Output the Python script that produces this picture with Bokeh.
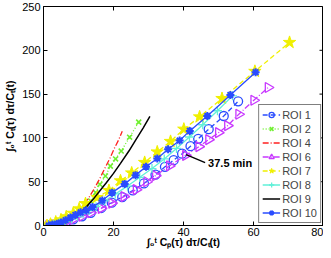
import numpy as np
from bokeh.plotting import figure
from bokeh.models import Label, FixedTicker
from bokeh.embed import file_html
from bokeh.resources import INLINE

# ---------------- data ----------------
x_ticks = [0, 20, 40, 60, 80]
y_ticks = [0, 50, 100, 150, 200, 250]
x_label = "∫₀ᵗ Cₚ(τ) dτ/Cₜ(t)"
y_label = "∫₀ᵗ Cₜ(τ) dτ/Cₜ(t)"

roi1_x = [1.5, 3, 4.5, 6.5, 8.5, 11, 13.5, 16.5, 19.5, 22.5, 25.5, 28.7, 32, 34.7, 37.2, 39.6, 42, 44.2, 47.2, 51.5, 55.6]
roi1_y = [0, 1, 2.5, 4.5, 7, 10.5, 14.5, 20, 26, 32.5, 40, 48, 58, 67, 74.6, 82, 90.5, 99, 110, 125, 141.7]

roi2_x = [1.5, 3, 4.5, 6, 7.5, 9, 10.5, 12, 13.5, 14.9, 16.1, 17.7, 19.1, 20.6, 22.2, 24.6, 27.2]
roi2_y = [0, 1, 2.5, 4.5, 7, 10.5, 15, 20.5, 28, 37.5, 47, 56.5, 67.8, 76, 85, 100.8, 118]

roi4_x = [1, 2.5, 4, 5.5, 7, 8.5, 10, 11.5, 13, 14.5, 16, 17.5, 19, 20.3, 21.5, 22.5]
roi4_y = [0, 1.5, 3.5, 6, 9.5, 14, 19, 24, 32, 42, 53, 65, 77, 88.6, 98, 107.6]

roi6_x = [1.5, 3, 4.5, 6.5, 8.5, 11, 13.5, 16.5, 19.5, 23, 26.5, 29.5, 32, 36, 40.6, 44.4, 47.2, 50, 52.6, 55.8, 60.1, 64.2]
roi6_y = [0, 1, 2.5, 4.5, 7, 10.5, 14.5, 19.5, 25.5, 33, 41, 50, 57, 68, 80, 90, 98, 106, 114, 127, 143, 157.6]

roi7_x = [1, 2, 3.5, 5, 6.5, 8.5, 10.2, 12, 15.3, 18.7, 22, 25.2, 28.9, 32.5, 36.3, 40.1, 44.6, 51, 60.4, 70.3]
roi7_y = [0, 1.5, 4, 6.5, 10, 14, 19, 25, 32, 40, 51, 60, 72, 84, 96, 110, 124, 145, 176, 209]

roi8_x = [1.5, 3, 4.5, 6.2, 8, 9.7, 11.3, 13, 15, 17.5, 20.5, 24, 27.5, 31, 34.5, 38, 41.7, 45.5, 49.7, 54]
roi8_y = [0, 1.2, 2.8, 4.8, 7.5, 10.5, 13.5, 17, 21.5, 28, 36, 45, 55, 65, 76, 88, 101, 115, 131, 148]

roi9_x = [1, 2.5, 4, 5.5, 7, 8.5, 10, 11.5, 12.5, 14, 16, 18, 20, 22, 24.4, 26.5, 28.5, 30.4]
roi9_y = [0, 1.5, 3, 5, 7.5, 10.5, 14, 18.5, 22.4, 29, 39, 49, 59.5, 71, 85, 98.5, 111.5, 124.7]

roi10_x = [1.5, 2.5, 3.8, 5, 6.3, 7.7, 9.1, 10.6, 12.2, 14, 16.8, 19.6, 23.2, 26.3, 29.3, 32.5, 35.6, 38.9, 41.8, 46.8, 53.4, 60.6]
roi10_y = [0, 1, 2, 3.5, 6, 9, 12, 15, 17.5, 21, 28.5, 37.5, 47.5, 57.5, 67, 76.5, 87, 97, 108, 125, 149, 175]

annot_text = "37.5 min"
annot_index = 15  # point of ROI 1 at 37.5 min

FONT = "Liberation Sans"
W_FIG, H_FIG = 323, 250
MB_L, MB_R, MB_T, MB_B = 43, 0, 6, 25
X0, X1, Y0, Y1 = 0, 80, 0, 250

p = figure(width=W_FIG, height=H_FIG, x_range=(X0, X1), y_range=(Y0, Y1),
           output_backend="svg", toolbar_location=None,
           min_border_left=MB_L, min_border_right=MB_R, min_border_top=MB_T, min_border_bottom=MB_B)
p.xgrid.visible = False
p.ygrid.visible = False
p.outline_line_color = "black"
p.background_fill_color = "white"
p.border_fill_color = "white"

p.xaxis.ticker = FixedTicker(ticks=x_ticks)
p.yaxis.ticker = FixedTicker(ticks=y_ticks)
p.xaxis.axis_label = x_label
p.yaxis.axis_label = y_label
for ax in p.xaxis + p.yaxis:
    ax.axis_line_color = "black"
    ax.major_tick_line_color = "black"
    ax.major_tick_in = 4
    ax.major_tick_out = 0
    ax.minor_tick_line_color = None
    ax.major_label_text_font = FONT
    ax.major_label_text_color = "black"
    ax.major_label_text_font_size = "11px"
    ax.axis_label_text_font = FONT
    ax.axis_label_text_font_size = "10.5px"
    ax.axis_label_text_font_style = "bold"
    ax.axis_label_text_color = "black"
p.xaxis.major_label_standoff = 2
p.xaxis.axis_label_standoff = -3
p.xaxis.axis_label_text_line_height = 0.8
p.yaxis.major_label_standoff = 3
p.yaxis.axis_label_standoff = 3

FRAME_W = W_FIG - MB_L - MB_R
FRAME_H = H_FIG - MB_T - MB_B
ax_px = FRAME_W / float(X1 - X0)
ay_px = FRAME_H / float(Y1 - Y0)

# mirrored ticks on top and right (MATLAB box style)
p.segment(x0=x_ticks, y0=[Y1] * len(x_ticks), x1=x_ticks, y1=[Y1 - 4 / ay_px] * len(x_ticks),
          line_color="black", line_width=1)
p.segment(x0=[X1] * len(y_ticks), y0=y_ticks, x1=[X1 - 4 / ax_px] * len(y_ticks), y1=y_ticks,
          line_color="black", line_width=1)

BLUE = "#2a4cff"
GREEN = "#70f030"
RED = "#ff2020"
MAGENTA = "#c838ff"
YELLOW = "#f0f000"
CYAN = "#60f0d8"

lw = 1.3
# ROI 1
p.line(roi1_x, roi1_y, line_color=BLUE, line_width=lw, line_dash="5 3", legend_label="ROI 1")
p.scatter(roi1_x, roi1_y, marker="circle", size=9, fill_color=None, line_color=BLUE, line_width=1.3, legend_label="ROI 1")
# ROI 2
p.line(roi2_x, roi2_y, line_color=GREEN, line_width=lw, line_dash="1 2", legend_label="ROI 2")
p.scatter(roi2_x, roi2_y, marker="x", size=7, line_color=GREEN, line_width=1.6, legend_label="ROI 2")
# ROI 4
p.line(roi4_x, roi4_y, line_color=RED, line_width=lw, line_dash="6 2 1 2", legend_label="ROI 4")
# ROI 6
p.line(roi6_x, roi6_y, line_color=MAGENTA, line_width=lw, line_dash="6 2 1 2", legend_label="ROI 6")
p.scatter(roi6_x, roi6_y, marker="triangle", angle=-np.pi / 2, size=10, fill_color=None,
          line_color=MAGENTA, line_width=1.3, legend_label="ROI 6")
# ROI 7
p.line(roi7_x, roi7_y, line_color=YELLOW, line_width=lw, line_dash="5 3", legend_label="ROI 7")
p.scatter(roi7_x, roi7_y, marker="star", size=13, fill_color=YELLOW, line_color=YELLOW, legend_label="ROI 7")
# ROI 8
p.line(roi8_x, roi8_y, line_color=CYAN, line_width=lw, legend_label="ROI 8")
p.scatter(roi8_x, roi8_y, marker="cross", size=9, line_color=CYAN, line_width=1.3, legend_label="ROI 8")
# ROI 9
p.line(roi9_x, roi9_y, line_color="black", line_width=1.5, legend_label="ROI 9")
# ROI 10
p.line(roi10_x, roi10_y, line_color=BLUE, line_width=lw, legend_label="ROI 10")
p.scatter(roi10_x, roi10_y, marker="asterisk", size=8, line_color=BLUE, line_width=2, legend_label="ROI 10")

# annotation
px0, py0 = roi1_x[annot_index], roi1_y[annot_index]
p.segment(x0=[px0 + 4 / ax_px], y0=[py0 - 1 / ay_px], x1=[px0 + 23 / ax_px], y1=[py0 - 9 / ay_px],
          line_color="black", line_width=1.3)
p.add_layout(Label(x=px0, y=py0, x_offset=26, y_offset=-9, text=annot_text, text_font=FONT,
                   text_font_size="11px", text_font_style="bold", text_baseline="middle",
                   text_align="left", text_color="black"))

# legend
lg = p.legend[0]
lg.location = "bottom_right"
lg.margin = 2
lg.padding = 3
lg.spacing = 1
lg.label_height = 13
lg.glyph_height = 13
lg.glyph_width = 18
lg.label_standoff = 2
lg.label_text_font = FONT
lg.label_text_font_size = "11px"
lg.border_line_color = "black"
lg.border_line_width = 1
lg.background_fill_alpha = 1.0

open("out.html", "w").write(file_html(p, INLINE))
